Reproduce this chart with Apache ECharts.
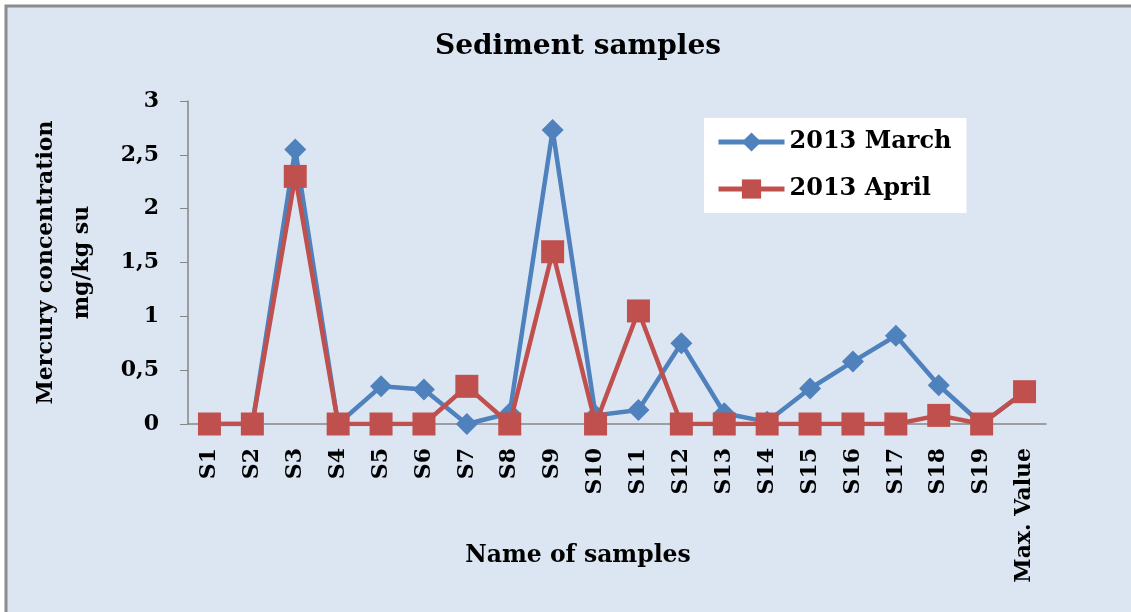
<!DOCTYPE html>
<html><head><meta charset="utf-8">
<script src="https://cdn.jsdelivr.net/npm/echarts@6/dist/echarts.min.js"></script>
<style>html,body{margin:0;padding:0;background:#fff;}#c{width:1131px;height:612px;}</style>
</head><body><div id="c"></div>
<script>
var categories = ['S1','S2','S3','S4','S5','S6','S7','S8','S9','S10','S11','S12','S13','S14','S15','S16','S17','S18','S19','Max. Value'];
var march = [0, 0, 2.55, 0, 0.35, 0.32, 0, 0.1, 2.73, 0.08, 0.13, 0.75, 0.1, 0.02, 0.33, 0.58, 0.82, 0.36, 0, 0.3];
var april = [0, 0, 2.3, 0, 0, 0, 0.35, 0, 1.6, 0, 1.05, 0, 0, 0, 0, 0, 0, 0.08, 0, 0.3];
var yTicks = ['0','0,5','1','1,5','2','2,5','3'];

var serif = 'DejaVu Serif';
var chart = echarts.init(document.getElementById('c'));
chart.setOption({
  backgroundColor: '#ffffff',
  animation: false,
  graphic: [{
    type: 'rect', z: -10, silent: true,
    shape: {x: 6, y: 6, width: 1140, height: 630},
    style: {fill: '#dce6f2', stroke: '#8c8c8c', lineWidth: 3}
  }],
  title: [{
    text: 'Sediment samples', left: 573, top: 28, textAlign: 'center',
    textStyle: {fontFamily: serif, fontWeight: 'bold', fontSize: 28, color: '#000'}
  }, {
    text: 'Name of samples', left: 573, top: 539, textAlign: 'center',
    textStyle: {fontFamily: serif, fontWeight: 'bold', fontSize: 23.5, color: '#000'}
  }],
  legend: {
    left: 704, top: 118, orient: 'vertical',
    padding: [11, 15, 11, 12], itemGap: 21,
    backgroundColor: '#ffffff',
    itemWidth: 66, itemHeight: 24,
    lineStyle: {width: 5},
    textStyle: {fontFamily: serif, fontWeight: 'bold', fontSize: 24, color: '#000', lineHeight: 26},
    data: ['2013 March', '2013 April']
  },
  grid: {left: 188, right: 85, top: 101, bottom: 188, containLabel: false},
  xAxis: {
    type: 'category', data: categories, boundaryGap: true,
    axisLine: {lineStyle: {color: '#868686', width: 1.5}},
    axisTick: {show: false},
    axisLabel: {rotate: 90, margin: 24, interval: 0, fontFamily: serif, fontWeight: 'bold', fontSize: 22, color: '#000'}
  },
  yAxis: {
    type: 'value', min: 0, max: 3, interval: 0.5,
    name: 'Mercury concentration\nmg/kg su', nameLocation: 'middle', nameRotate: 90, nameGap: 88,
    nameTextStyle: {fontFamily: serif, fontWeight: 'bold', fontSize: 22, color: '#000', lineHeight: 36},
    axisLine: {show: true, lineStyle: {color: '#868686', width: 1.5}},
    axisTick: {show: true, length: 8, lineStyle: {color: '#868686'}},
    splitLine: {show: false},
    axisLabel: {margin: 29, fontFamily: serif, fontWeight: 'bold', fontSize: 22, color: '#000',
      formatter: function (v) { return yTicks[Math.round(v * 2)]; }}
  },
  series: [{
    name: '2013 March', type: 'line', data: march,
    symbol: 'diamond', symbolSize: 22,
    lineStyle: {color: '#4f81bd', width: 4.5},
    itemStyle: {color: '#4f81bd'}, z: 2
  }, {
    name: '2013 April', type: 'line', data: april,
    symbol: 'rect', symbolSize: 23,
    lineStyle: {color: '#c0504d', width: 4.5},
    itemStyle: {color: '#c0504d'}, z: 3
  }]
});
</script></body></html>
